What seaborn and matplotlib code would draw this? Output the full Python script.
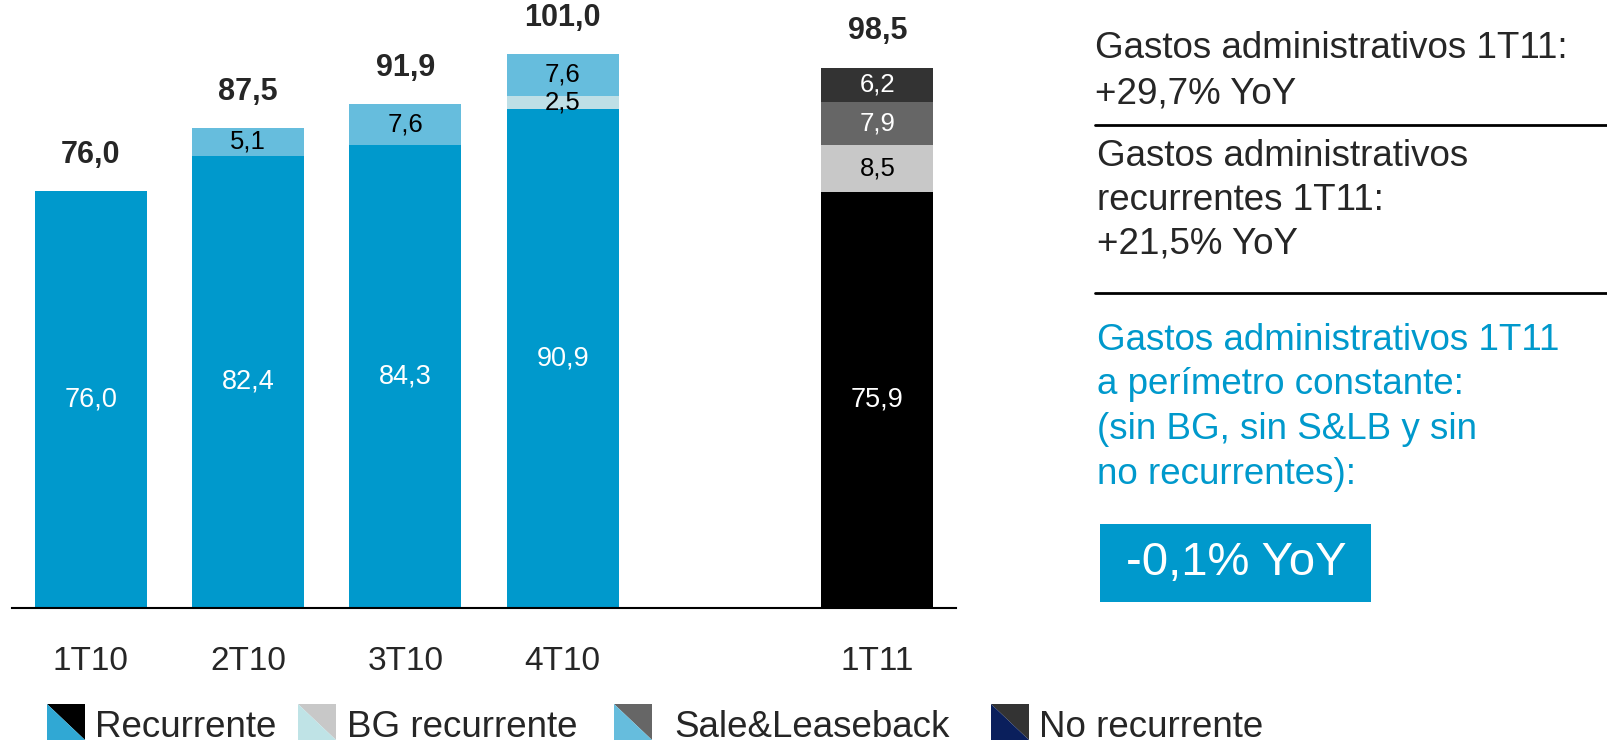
import pandas as pd
import seaborn as sns
import matplotlib.pyplot as plt
from matplotlib.patches import Polygon, Rectangle
from matplotlib.lines import Line2D

# --- data ---
periodos = ["1T10", "2T10", "3T10", "4T10", "1T11"]
recurrente = [76.0, 82.4, 84.3, 90.9, 75.9]
bg_recurrente = [0.0, 0.0, 0.0, 2.5, 8.5]
sale_leaseback = [0.0, 5.1, 7.6, 7.6, 7.9]
no_recurrente = [0.0, 0.0, 0.0, 0.0, 6.2]
totales = [76.0, 87.5, 91.9, 101.0, 98.5]

capas = ["Recurrente", "BG recurrente", "Sale&Leaseback", "No recurrente"]
colores_2010 = ["#0099CC", "#BEDFE6", "#66BDDD", "#0A1F5C"]
colores_2011 = ["#000000", "#C8C8C8", "#666666", "#333333"]
colores_leyenda = ["#30A8D4", "#BFE3E6", "#66BDDD", "#0A1F5C"]
texto_2010 = ["white", "black", "black", "black"]
texto_2011 = ["white", "black", "white", "white"]

AZUL = "#0099CC"
W, H = 1608, 744

sns.set_style("white")
plt.rcParams["font.family"] = ["Liberation Sans", "DejaVu Sans"]

# long table with stacked bottoms / tops
rows = []
for i, p in enumerate(periodos):
    base = 0.0
    for capa, vals in zip(capas, [recurrente, bg_recurrente, sale_leaseback, no_recurrente]):
        v = vals[i]
        rows.append(dict(periodo=p, capa=capa, valor=v, base=base, tope=base + v))
        base += v
df = pd.DataFrame(rows)

orden = periodos[:4] + [""] + periodos[4:]

fig = plt.figure(figsize=(W / 100, H / 100), dpi=100)
px_por_unidad = 5.487
ax = fig.add_axes([12 / W, 136 / H, 944 / W, 110 * px_por_unidad / H])

# stacked bars: draw cumulative tops from the top layer down
for j in reversed(range(len(capas))):
    sub = df[(df.capa == capas[j]) & (df.valor > 0)]
    pal = {p: (colores_2011[j] if p == "1T11" else colores_2010[j]) for p in periodos}
    sns.barplot(data=sub, x="periodo", y="tope", hue="periodo", palette=pal,
                order=orden, width=0.71, saturation=1, errorbar=None,
                legend=False, linewidth=0, ax=ax)

# segment labels
for _, r in df[df.valor > 0].iterrows():
    j = capas.index(r.capa)
    col = texto_2011[j] if r.periodo == "1T11" else texto_2010[j]
    size = 19.5 if j == 0 else 18.5
    ax.text(orden.index(r.periodo), r.base + r.valor / 2,
            f"{r.valor:.1f}".replace(".", ","), ha="center", va="center",
            color=col, fontsize=size)

# totals
for p, t in zip(periodos, totales):
    ax.annotate(f"{t:.1f}".replace(".", ","), (orden.index(p), t),
                xytext=(0, 26), textcoords="offset points",
                ha="center", va="center", fontsize=22, fontweight="bold")

ax.set_ylim(0, 110)
ax.set_xlim(-0.5, 5.5)
ax.set_xlabel("")
ax.set_ylabel("")
ax.set_yticks([])
sns.despine(ax=ax, left=True)
ax.spines["bottom"].set_color("black")
ax.spines["bottom"].set_linewidth(1.5)
ax.tick_params(axis="x", length=0, labelsize=24, pad=27)


def fp(x, y):
    return x / W, 1 - y / H


# right-hand commentary
bloque1 = ["Gastos administrativos 1T11:", "+29,7% YoY"]
for txt, y in zip(bloque1, [49, 94]):
    fig.text(*fp(1095, y), txt, fontsize=26.5, va="center", ha="left")
fig.add_artist(Line2D([1095 / W, 1.0], [1 - 125 / H] * 2, color="black", lw=2))

bloque2 = ["Gastos administrativos", "recurrentes 1T11:", "+21,5% YoY"]
for txt, y in zip(bloque2, [156, 200, 244]):
    fig.text(*fp(1097, y), txt, fontsize=26.5, va="center", ha="left")
fig.add_artist(Line2D([1095 / W, 1.0], [1 - 293 / H] * 2, color="black", lw=2))

bloque3 = ["Gastos administrativos 1T11", "a perímetro constante:",
           "(sin BG, sin S&LB y sin", "no recurrentes):"]
for txt, y in zip(bloque3, [340, 385, 429, 474]):
    fig.text(*fp(1097, y), txt, fontsize=26.5, va="center", ha="left", color=AZUL)

fig.add_artist(Rectangle(fp(1100, 602), 271 / W, 78 / H,
                         transform=fig.transFigure, color=AZUL, lw=0))
fig.text(*fp(1236, 563), "-0,1% YoY", fontsize=34, color="white",
         ha="center", va="center")

# legend with split-diagonal swatches
leg_x = [47, 298, 614, 991]
txt_x = [95, 347, 674, 1039]
for k, capa in enumerate(capas):
    x0, y0, x1, y1 = leg_x[k], 704, leg_x[k] + 38, 740
    up = [fp(x0, y0), fp(x1, y0), fp(x1, y1)]
    lo = [fp(x0, y0), fp(x1, y1), fp(x0, y1)]
    fig.add_artist(Polygon(up, closed=True, transform=fig.transFigure,
                           color=colores_2011[k], lw=0))
    fig.add_artist(Polygon(lo, closed=True, transform=fig.transFigure,
                           color=colores_leyenda[k], lw=0))
    fig.text(*fp(txt_x[k], 737), capa, fontsize=26.5, va="baseline", ha="left")

fig.savefig("out.png", dpi=100)
